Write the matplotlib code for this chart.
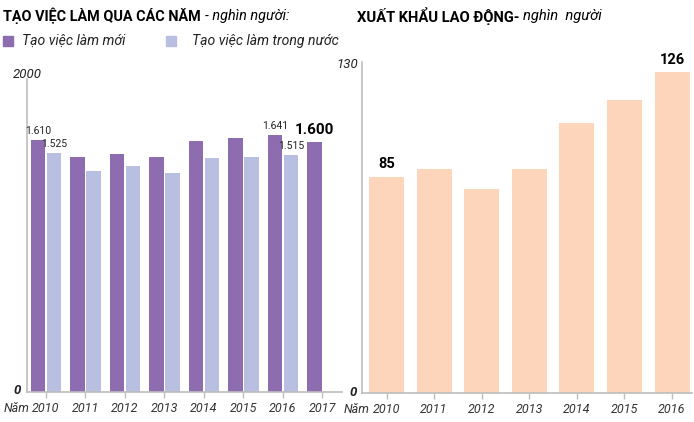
import matplotlib
matplotlib.use('Agg')
import matplotlib.pyplot as plt
import numpy as np

plt.rcParams['font.family'] = ['Roboto', 'DejaVu Sans']

# data
years_left = ['2010', '2011', '2012', '2013', '2014', '2015', '2016', '2017']
tao_moi = [1610, 1502, 1521, 1502, 1604, 1623, 1641, 1600]
trong_nuoc = [1525, 1412, 1444, 1399, 1495, 1502, 1515]
years_right = ['2010', '2011', '2012', '2013', '2014', '2015', '2016']
xkld = [85, 88, 80, 88, 106, 115, 126]

PURPLE = '#8d6db0'
LIGHT = '#b9bfe1'
PEACH = '#fdd5bb'
GREY = '#bdbdbd'
TXT = '#222222'

W, H = 694, 422
fig = plt.figure(figsize=(W / 100, H / 100), dpi=100)


def fx(x):
    return x / W


def fy(y):
    return 1 - y / H


def style_axes(ax):
    for s in ['top', 'right']:
        ax.spines[s].set_visible(False)
    for s in ['left', 'bottom']:
        ax.spines[s].set_color(GREY)
        ax.spines[s].set_linewidth(1.2)
    ax.set_yticks([])
    ax.tick_params(axis='x', length=4, color=GREY, width=1, pad=3,
                   labelsize=9, labelcolor='#333333')
    for lab in ax.get_xticklabels():
        lab.set_fontstyle('italic')


# ---- left chart: tao viec lam
axl = fig.add_axes([fx(27), fy(392), fx(342 - 27), (392 - 79) / H])
xl = np.arange(len(years_left))
axl.bar(xl - 0.2, tao_moi, width=0.36, color=PURPLE, zorder=2)
axl.bar(xl[:len(trong_nuoc)] + 0.2, trong_nuoc, width=0.36, color=LIGHT, zorder=2)
axl.set_xlim(-0.481, 7.494)
axl.set_ylim(0, 2000)
axl.set_xticks(xl)
axl.set_xticklabels(years_left)
style_axes(axl)

small = dict(fontsize=7.5, color=TXT, ha='center', va='bottom')
axl.text(0 - 0.2, tao_moi[0] + 25, '1.610', **small)
axl.text(0 + 0.2, trong_nuoc[0] + 25, '1.525', **small)
axl.text(6 - 0.2, tao_moi[6] + 25, '1.641', **small)
axl.text(6 + 0.2, trong_nuoc[6] + 25, '1.515', **small)
axl.text(7 - 0.2, tao_moi[7] + 30, '1.600', fontsize=11, fontweight='bold',
         color='black', ha='center', va='bottom')

# ---- right chart: xuat khau lao dong
axr = fig.add_axes([fx(362), fy(393), fx(692 - 362), (393 - 62) / H])
xr = np.arange(len(years_right))
axr.bar(xr, xkld, width=0.735, color=PEACH, zorder=2)
axr.set_xlim(-0.515, 6.42)
axr.set_ylim(0, 130)
axr.set_xticks(xr)
axr.set_xticklabels(years_right)
style_axes(axr)
axr.text(0, xkld[0] + 2, '85', fontsize=10.5, fontweight='bold', color='black',
         ha='center', va='bottom')
axr.text(6, xkld[6] + 2, '126', fontsize=10.5, fontweight='bold', color='black',
         ha='center', va='bottom')

# ---- axis end labels
ax_lab = dict(fontsize=9.5, style='italic', color=TXT)
fig.text(fx(27), fy(74), '2000', ha='center', va='center', **ax_lab)
fig.text(fx(21), fy(391), '0', ha='right', va='center', fontweight='bold', **ax_lab)
fig.text(fx(358), fy(64), '130', ha='right', va='center', **ax_lab)
fig.text(fx(357), fy(392), '0', ha='right', va='center', fontweight='bold', **ax_lab)

# ---- titles and legend
fig.text(fx(3), fy(16), 'TẠO VIỆC LÀM QUA CÁC NĂM', fontsize=10.4,
         fontweight='bold', color='black', ha='left', va='center')
fig.text(fx(357), fy(16), 'XUẤT KHẨU LAO ĐỘNG-', fontsize=10.6,
         fontweight='bold', color='black', ha='left', va='center')

fig.patches.append(plt.Rectangle((fx(3), fy(46)), fx(10), 10 / H, color=PURPLE,
                                 transform=fig.transFigure, figure=fig))
fig.text(fx(22), fy(41), 'Tạo việc làm mới', fontsize=10.1, style='italic',
         color=TXT, ha='left', va='center')
fig.patches.append(plt.Rectangle((fx(166), fy(46)), fx(10), 10 / H, color=LIGHT,
                                 transform=fig.transFigure, figure=fig))
fig.text(fx(192), fy(41), 'Tạo việc làm trong nước', fontsize=10.1, style='italic',
         color=TXT, ha='left', va='center')

# pieces placed next to measured texts
fig.canvas.draw()
r = fig.canvas.get_renderer()
t1, t2 = [t for t in fig.texts if t.get_fontweight() == 'bold' and t.get_text().isupper()]
e1 = t1.get_window_extent(r)
fig.text(fx(e1.x1 + 4), fy(16), '- nghìn người:', fontsize=10.4, style='italic',
         color='black', ha='left', va='center')
e2 = t2.get_window_extent(r)
fig.text(fx(e2.x1 + 4), fy(16), 'nghìn  người', fontsize=10.6, style='italic',
         color='black', ha='left', va='center')

for ax in (axl, axr):
    first = ax.get_xticklabels()[0].get_window_extent(r)
    fig.text(first.x0 / W - fx(3), (first.y0 + first.y1) / 2 / H, 'Năm',
             ha='right', va='center', fontsize=9, style='italic', color='#333333')

fig.savefig('out.png', dpi=100)
